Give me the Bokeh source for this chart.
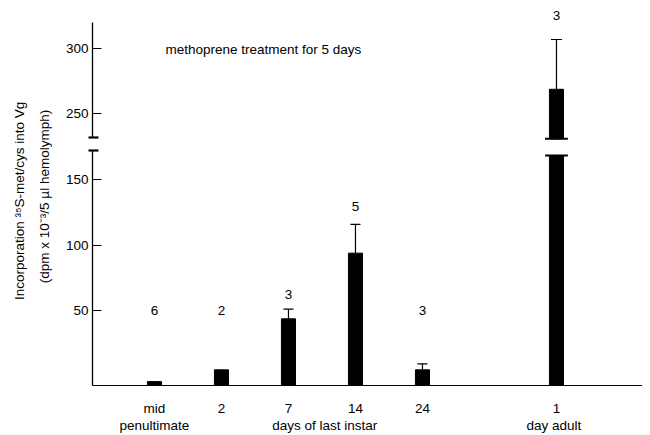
import numpy as np
from bokeh.plotting import figure
from bokeh.layouts import row, column
from bokeh.models import (Range1d, LinearAxis, FixedTicker, ColumnDataSource,
                          Whisker, TeeHead)
from bokeh.core.properties import value
from bokeh.embed import file_html
from bokeh.resources import INLINE

# ---------------- data ----------------
categories = ["mid", "2", "7", "14", "24", "1"]
group_labels = ["penultimate", "days of last instar", "day adult"]
x_pos = [0, 1, 2, 3, 4, 6]
group_pos = [0, 2.54, 5.96]
means = [-4.5, 4.5, 43.6, 93.9, 4.5, 268.9]
err_top = [None, None, 51.0, 115.9, 9.1, 307.2]
n_counts = [6, 2, 3, 5, 3, 3]
n_label_y = [50, 50, 62, 130, 50, 326]

lower_ticks = [50, 100, 150]
upper_ticks = [250, 300]
lower_range = (-7.5, 180.2)
upper_range = (229.5, 337.2)
lower_axis_top = 172.6
upper_axis_bounds = (232.0, 320.2)
lower_break = 168.7
upper_break = 230.8
title_text = "methoprene treatment for 5 days"
ylabel1 = "Incorporation \u00b3\u2075S-met/cys  into Vg"
ylabel2 = "(dpm x 10\u207b\u00b3/5 \u00b5l hemolymph)"

FONT = value("Liberation Sans")
FS = "13.5px"
BAR_W = 0.21
x_range = Range1d(-0.925, 7.284)

UP_H, LO_H, LO_BOTTOM = 140, 295, 50
TOTAL_H = UP_H + LO_H


def base_fig(h, yr, bottom):
    p = figure(width=586, height=h, x_range=x_range, y_range=Range1d(*yr),
               toolbar_location=None, output_backend="svg",
               x_axis_location=None, y_axis_location=None,
               min_border_left=36, min_border_right=0, min_border_top=0,
               min_border_bottom=bottom)
    p.outline_line_color = None
    p.grid.visible = False
    p.background_fill_color = "white"
    return p


def style_y(ax):
    ax.axis_line_color = "black"
    ax.axis_line_width = 1.3
    ax.major_tick_in = 9
    ax.major_tick_out = 0
    ax.major_tick_line_color = "black"
    ax.major_tick_line_width = 1
    ax.minor_tick_in = 6
    ax.minor_tick_out = 4
    ax.minor_tick_line_color = "black"
    ax.minor_tick_line_width = 2.2
    ax.major_label_standoff = 0
    ax.major_label_text_font = "Liberation Sans"
    ax.major_label_text_font_size = FS
    ax.major_label_text_color = "black"


# ---------------- upper panel ----------------
up = base_fig(UP_H, upper_range, 0)
ya_up = LinearAxis(ticker=FixedTicker(ticks=upper_ticks, minor_ticks=[upper_axis_bounds[0]]),
                   bounds=upper_axis_bounds)
style_y(ya_up)
up.add_layout(ya_up, "left")

ux = [x for x, m in zip(x_pos, means) if m > upper_break]
utop = [m for m in means if m > upper_break]
up.vbar(x=ux, top=utop, bottom=upper_break, width=BAR_W, color="black")
up.segment(x0=[x - 0.17 for x in ux], x1=[x + 0.17 for x in ux],
           y0=upper_break, y1=upper_break, line_color="black", line_width=2)
uw = ColumnDataSource(dict(
    x=[x for x, m, e in zip(x_pos, means, err_top) if e is not None and m > upper_break],
    lo=[m for m, e in zip(means, err_top) if e is not None and m > upper_break],
    hi=[e for m, e in zip(means, err_top) if e is not None and m > upper_break]))
up.add_layout(Whisker(source=uw, base="x", lower="lo", upper="hi",
                      upper_head=TeeHead(size=11, line_width=1.2, line_color="black"),
                      lower_head=None, line_color="black", line_width=1.2))
up.text(x=[x for x, y in zip(x_pos, n_label_y) if y > upper_break],
        y=[y for y in n_label_y if y > upper_break],
        text=[str(n) for n, y in zip(n_counts, n_label_y) if y > upper_break],
        text_font=FONT, text_font_size=FS, text_align="center",
        text_baseline="middle", text_color="black")
up.text(x=[0.164], y=[299.4], text=[title_text], text_font=FONT, text_font_size=FS,
        text_align="left", text_baseline="middle", text_color="black")

# ---------------- lower panel ----------------
lo = base_fig(LO_H, lower_range, LO_BOTTOM)
ya_lo = LinearAxis(ticker=FixedTicker(ticks=lower_ticks, minor_ticks=[lower_axis_top]),
                   bounds=(lower_range[0], lower_axis_top))
style_y(ya_lo)
lo.add_layout(ya_lo, "left")

lo.vbar(x=x_pos, top=[min(m, lower_break) for m in means], bottom=lower_range[0],
        width=BAR_W, color="black")
bx = [x for x, m in zip(x_pos, means) if m > lower_break]
lo.segment(x0=[x - 0.17 for x in bx], x1=[x + 0.17 for x in bx],
           y0=lower_break, y1=lower_break, line_color="black", line_width=2)
lw = ColumnDataSource(dict(
    x=[x for x, m, e in zip(x_pos, means, err_top) if e is not None and m <= lower_break],
    lo=[m for m, e in zip(means, err_top) if e is not None and m <= lower_break],
    hi=[e for m, e in zip(means, err_top) if e is not None and m <= lower_break]))
lo.add_layout(Whisker(source=lw, base="x", lower="lo", upper="hi",
                      upper_head=TeeHead(size=10, line_width=1.2, line_color="black"),
                      lower_head=None, line_color="black", line_width=1.2))
lo.text(x=[x for x, y in zip(x_pos, n_label_y) if y <= upper_break],
        y=[y for y in n_label_y if y <= upper_break],
        text=[str(n) for n, y in zip(n_counts, n_label_y) if y <= upper_break],
        text_font=FONT, text_font_size=FS, text_align="center",
        text_baseline="middle", text_color="black")

xa1 = LinearAxis(ticker=FixedTicker(ticks=x_pos),
                 major_label_overrides={x: c for x, c in zip(x_pos, categories)})
xa2 = LinearAxis(ticker=FixedTicker(ticks=group_pos),
                 major_label_overrides={x: c for x, c in zip(group_pos, group_labels)})
for ax, so in ((xa1, 15), (xa2, -1)):
    ax.major_tick_in = 0
    ax.major_tick_out = 0
    ax.minor_tick_in = 0
    ax.minor_tick_out = 0
    ax.major_label_standoff = so
    ax.major_label_text_font = "Liberation Sans"
    ax.major_label_text_font_size = FS
    ax.major_label_text_color = "black"
xa1.axis_line_color = "black"
xa1.axis_line_width = 1.2
xa2.axis_line_color = None
lo.add_layout(xa1, "below")
lo.add_layout(xa2, "below")

# ---------------- y-axis title panel ----------------
lab = figure(width=56, height=TOTAL_H, x_range=Range1d(0, 56), y_range=Range1d(0, TOTAL_H),
             toolbar_location=None, output_backend="svg",
             x_axis_location=None, y_axis_location=None, min_border=0)
lab.outline_line_color = None
lab.grid.visible = False
lab.text(x=[19, 43.5], y=[TOTAL_H - 198.5, TOTAL_H - 196], text=[ylabel1, ylabel2],
         angle=np.pi / 2, text_font=FONT, text_font_size=FS, text_align="center",
         text_baseline="middle", text_color="black")

layout = row(lab, column(up, lo))
open("out.html", "w").write(file_html(layout, INLINE))
